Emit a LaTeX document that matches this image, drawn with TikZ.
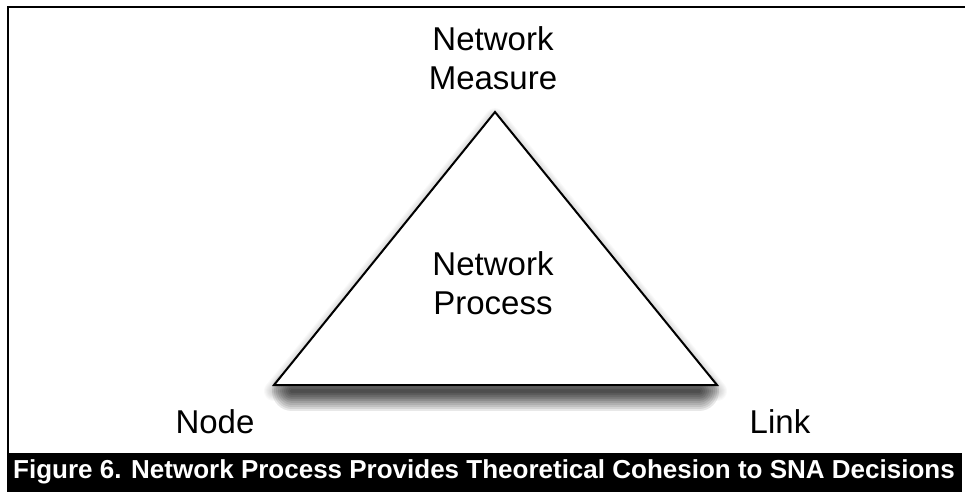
\documentclass[tikz,border=0pt]{standalone}
\usepackage{fontspec}
\setmainfont{Liberation Sans}

\tikzset{
	lbl/.style = {align=center, font=\fontsize{16.5pt}{19.5pt}\selectfont},
	tri/.style = {line width=1pt, line join=miter}
}

\begin{document}
\begin{tikzpicture}[x=0.5pt, y=-0.5pt]
	\useasboundingbox (0,0) rectangle (965,495);

	% frame and caption bar
	\draw[line width=1.25pt] (8,455) -- (8,7) -- (965,7);
	\fill[black] (7,453) rectangle (962,492);

	\coordinate (apex) at (495,112);
	\coordinate (bl) at (274,385);
	\coordinate (br) at (717,385);

	% soft shadow, faint round the sides, dark under the base
	\foreach \w in {1,...,10}
		\draw[black, opacity=.025, line width=\w pt, line join=round]
			([yshift=-3pt]apex) -- ([yshift=-3pt]bl) -- ([yshift=-3pt]br) -- cycle;
	\foreach \w in {1,...,10}
		\draw[black, opacity=.09, line width=2*\w pt, line cap=round]
			([xshift=9pt,yshift=-3pt]bl) -- ([xshift=-9pt,yshift=-3pt]br);

	\draw[tri, fill=white, draw=black] (apex) -- (bl) -- (br) -- cycle;

	\node[lbl] (measure) at (493,58) {Network\\Measure};
	\node[lbl] (process) at (493,283) {Network\\Process};
	\node[lbl] (nodelbl) at (215,422) {Node};
	\node[lbl] (link) at (780,422) {Link};

	\node[text=white, font=\fontsize{13pt}{15pt}\selectfont\bfseries] (caption) at (484,472)
		{Figure 6. Network Process Provides Theoretical Cohesion to SNA Decisions};

\end{tikzpicture}
\end{document}
